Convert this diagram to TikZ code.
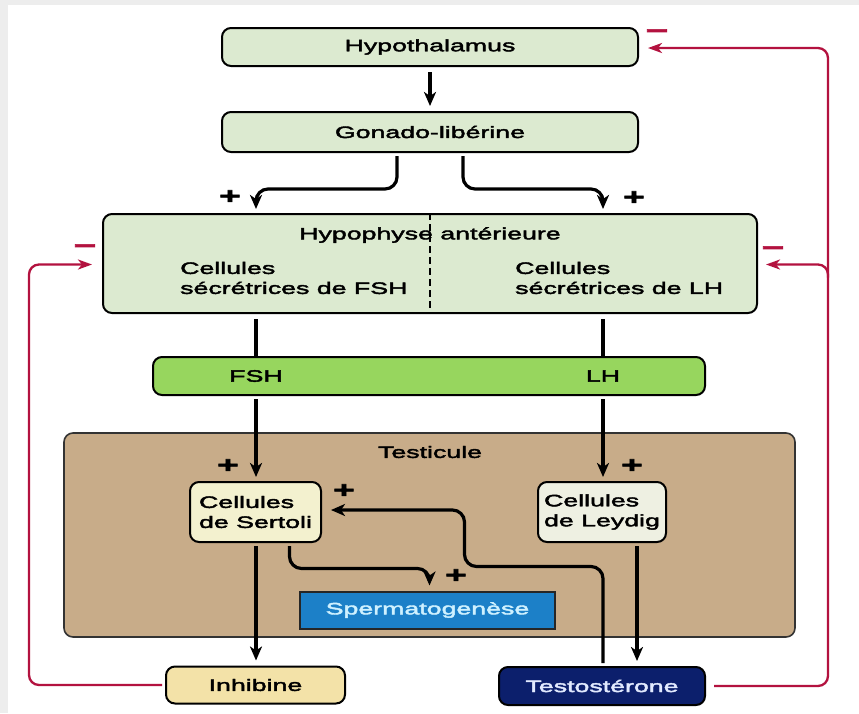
\documentclass[tikz,border=0pt]{standalone}
\usepackage{fontspec}
\setmainfont{Liberation Sans}[FakeStretch=1.62, FakeBold=2.5]
\usepackage{tikz}
\usetikzlibrary{arrows.meta, positioning, calc}
\definecolor{hypogreen}{HTML}{DCEAD0}
\definecolor{hormgreen}{HTML}{97D65E}
\definecolor{testtan}{HTML}{C8AC89}
\definecolor{sertyellow}{HTML}{F3F1CF}
\definecolor{leydpale}{HTML}{EEF0E2}
\definecolor{inhibtan}{HTML}{F3E2A8}
\definecolor{spermblue}{HTML}{1C80C8}
\definecolor{spermtext}{HTML}{CFF1FF}
\definecolor{testonavy}{HTML}{0C1F6C}
\definecolor{testotext}{HTML}{E2EAFF}
\definecolor{fbred}{HTML}{B3123F}
\definecolor{edgegray}{HTML}{EDEDED}

\begin{document}
\begin{tikzpicture}[
  x=1pt, y=-1pt,
  txt/.style={font=\fontsize{16.5}{20}\selectfont, inner sep=0pt},
  box/.style={txt, draw, line width=2pt, rounded corners=9pt, align=center},
  hormbox/.style={box, fill=hypogreen, minimum width=416pt},
  cellbox/.style={box, align=left, minimum height=60pt},
  plus/.style={font=\fontsize{23}{23}\selectfont\bfseries, inner sep=0pt},
  minus/.style={font=\fontsize{24}{24}\selectfont\bfseries, text=fbred, inner sep=0pt},
  line/.style={line width=3.2pt},
  arr/.style={-{Stealth[length=14pt, width=12pt, inset=4pt]}, line width=3.2pt},
  fb/.style={-{Stealth[length=14pt, width=10pt, inset=4pt]}, line width=2.3pt, draw=fbred, rounded corners=10pt},
]

  % Frame
  \useasboundingbox (0,0) rectangle (859,713);
  \fill[edgegray] (0,0) rectangle (859,713);
  \fill[white] (8,5) rectangle (859,713);

  % Columns and rails
  \coordinate (fcol) at (256,0);
  \coordinate (lcol) at (603,0);
  \coordinate (lrail) at (29,0);
  \coordinate (rrail) at (828,0);

  % Testicule
  \node[draw=black!80, line width=1.6pt, rounded corners=9pt, fill=testtan,
        minimum width=731pt, minimum height=204pt] (testis) at (429.5,535) {};
  \node[txt] (testlbl) at (430,452) {Testicule};

  % Nodes
  \node[hormbox, minimum height=38pt] (hypo) at (430,47) {Hypothalamus};
  \node[hormbox, minimum height=40pt] (gnrh) at (430,132) {Gonado-libérine};
  \node[box, fill=hypogreen, minimum width=654pt, minimum height=99pt] (hypophyse) at (430,263.5) {};
  \node[txt] (hypolbl) at (430,235) {Hypophyse antérieure};
  \node[txt, align=left, anchor=west] (fshcells) at (180,278) {Cellules\\sécrétrices de FSH};
  \node[txt, align=left, anchor=west] (lhcells) at (515,278) {Cellules\\sécrétrices de LH};
  \draw[dashed, dash pattern=on 7pt off 4pt, line width=1.4pt] (hypophyse.north) -- (hypophyse.south);

  \node[box, fill=hormgreen, minimum width=552pt, minimum height=38pt] (fshlh) at (429,376) {};
  \node[txt] (fshlbl) at (fshlh.center -| fcol) {FSH};
  \node[txt] (lhlbl) at (fshlh.center -| lcol) {LH};

  \node[cellbox, fill=sertyellow, minimum width=131pt] (sertoli) at (255.5,512) {Cellules\\de Sertoli};
  \node[cellbox, fill=leydpale, minimum width=128pt] (leydig) at (602,512) {Cellules\\de Leydig};
  \node[box, rounded corners=0pt, draw=black!85, fill=spermblue, text=spermtext,
        minimum width=255pt, minimum height=37pt] (sperm) at (427.5,610) {Spermatogenèse};

  \node[box, fill=inhibtan, minimum width=179pt, minimum height=37pt] (inhib) at (255.5,685) {Inhibine};
  \node[box, fill=testonavy, text=testotext, minimum width=206pt, minimum height=38pt] (testo) at (602,686) {Testostérone};

  % Signs
  \node[plus] (pgF) at (230,197) {+};
  \node[plus] (pgL) at (634,198) {+};
  \node[plus] (pS) at (228,466) {+};
  \node[plus] (pL) at (632,466) {+};
  \node[plus] (pT) at (344,491) {+};
  \node[plus] (pSp) at (456,576) {+};
  \node[minus] (mHypo) at (657,34) {−};
  \node[minus] (mLeft) at (85,249) {−};
  \node[minus] (mRight) at (773,251) {−};

  % Arrows
  \draw[arr] ($(hypo.south)+(0,5)$) -- ($(gnrh.north)+(0,-5)$);
  \draw[arr, rounded corners=12pt] ($(gnrh.south)+(-33,3)$) |- ($(hypophyse.north -| fcol)+(0,-24)$) -- ($(hypophyse.north -| fcol)+(0,-4)$);
  \draw[arr, rounded corners=12pt] ($(gnrh.south)+(33,3)$) |- ($(hypophyse.north -| lcol)+(0,-24)$) -- ($(hypophyse.north -| lcol)+(0,-4)$);
  \draw[line] ($(hypophyse.south -| fcol)+(0,5)$) -- (fshlh.north -| fcol);
  \draw[line] ($(hypophyse.south -| lcol)+(0,5)$) -- (fshlh.north -| lcol);
  \draw[arr] ($(fshlh.south -| fcol)+(0,3)$) -- ($(sertoli.north -| fcol)+(0,-4)$);
  \draw[arr] ($(fshlh.south -| lcol)+(0,3)$) -- ($(leydig.north -| lcol)+(0,-4)$);
  \draw[arr] ($(sertoli.south -| fcol)+(0,3)$) -- ($(inhib.north -| fcol)+(0,-5)$);
  \draw[arr] ($(leydig.south)+(35,3)$) -- ($(testo.north)+(35,-5)$);
  \draw[arr, rounded corners=12pt] ($(sertoli.south)+(34,3)$) |- ($(sperm.north)+(2,-22)$) -- ($(sperm.north)+(2,-5)$);
  \draw[arr, rounded corners=12pt] ($(testo.north)+(1,-3)$) |- ($(sperm.north)+(37,-24)$) |- ($(sertoli.east)+(9,-2)$);

  % Feedback
  \draw[fb] ($(inhib.west)+(-3,0)$) -| ($(lrail |- hypophyse.west)+(0,1)$) -- ($(hypophyse.west)+(-10,1)$);
  \draw[fb] ($(testo.east)+(8,0)$) -| ($(rrail |- hypo.east)+(0,1)$) -- ($(hypo.east)+(9,1)$);
  \draw[fb] ($(rrail |- hypophyse.east)+(0,14)$) |- ($(hypophyse.east)+(8,1)$);

\end{tikzpicture}
\end{document}
